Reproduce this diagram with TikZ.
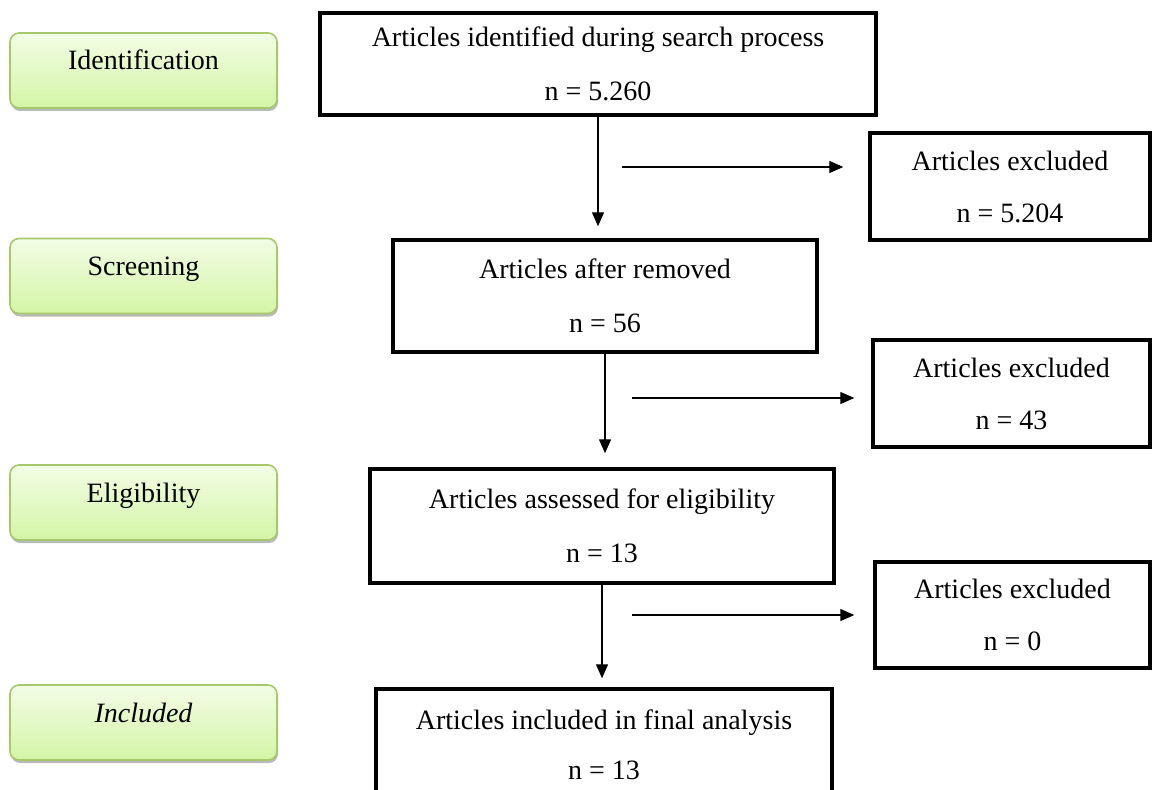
\documentclass[tikz,border=0pt]{standalone}
\usepackage{fontspec}
\setmainfont{Liberation Serif}
\usetikzlibrary{arrows.meta,shadows}
\definecolor{gborder}{RGB}{166,200,106}
\definecolor{gtop}{RGB}{242,253,230}
\definecolor{gbot}{RGB}{212,245,166}
\tikzset{
  phase/.style={draw=gborder, line width=1.6pt, rounded corners=9pt,
    top color=gtop, bottom color=gbot, minimum width=267pt, minimum height=75pt,
    inner sep=0pt, text height=37pt, text depth=38pt,
    drop shadow={shadow xshift=1pt, shadow yshift=-3pt, fill=black!45, opacity=0.6},
    font=\fontsize{28}{32}\selectfont},
  stepbox/.style={draw=black, line width=3.5pt, fill=white, inner sep=0pt, align=center,
    font=\fontsize{28}{32}\selectfont},
  arr/.style={line width=1.4pt, -{Triangle[length=14pt,width=12pt]}}
}
\begin{document}
\begin{tikzpicture}[x=1pt,y=-1pt]
\useasboundingbox (0,0) rectangle (1158,789);
\clip (0,0) rectangle (1158,789);
% phase labels
\node[phase] (p1) at (143.5,70.5) {Identification};
\node[phase] (p2) at (143.5,276) {Screening};
\node[phase] (p3) at (143.5,502.5) {Eligibility};
\node[phase] (p4) at (143.5,722.5) {\itshape Included};
% main boxes
\node[stepbox, minimum width=556pt, minimum height=102pt] (b1) at (598,64)
  {Articles identified during search process\\[22pt] n = 5.260};
\node[stepbox, minimum width=424pt, minimum height=112pt] (b2) at (605,296)
  {Articles after removed\\[22pt] n = 56};
\node[stepbox, minimum width=464pt, minimum height=114pt] (b3) at (602,526)
  {Articles assessed for eligibility\\[22pt] n = 13};
\node[stepbox, minimum width=456pt, minimum height=111pt] (b4) at (604,744.5)
  {Articles included in final analysis\\[18pt] n = 13};
% excluded boxes
\node[stepbox, minimum width=280pt, minimum height=107pt] (e1) at (1010,186.5)
  {Articles excluded\\[20pt] n = 5.204};
\node[stepbox, minimum width=277pt, minimum height=107pt] (e2) at (1011.5,393.5)
  {Articles excluded\\[20pt] n = 43};
\node[stepbox, minimum width=275pt, minimum height=106pt] (e3) at (1012.5,615)
  {Articles excluded\\[20pt] n = 0};
% vertical arrows
\draw[arr, shorten >=12pt] (b1.south) -- (b1.south |- b2.north);
\draw[arr, shorten >=14pt] (b2.south) -- (b2.south |- b3.north);
\draw[arr, shorten >=9pt] (b3.south) -- (b3.south |- b4.north);
% horizontal arrows
\coordinate (h1) at (622,167);
\coordinate (h2) at (632,398);
\coordinate (h3) at (632,615);
\draw[arr, shorten >=25pt] (h1) -- (h1 -| e1.west);
\draw[arr, shorten >=17pt] (h2) -- (h2 -| e2.west);
\draw[arr, shorten >=19pt] (h3) -- (h3 -| e3.west);
\end{tikzpicture}
\end{document}
